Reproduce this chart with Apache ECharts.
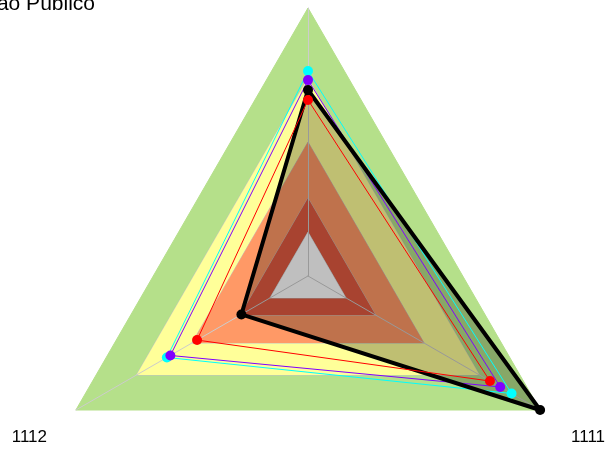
<!DOCTYPE html>
<html>
<head>
<meta charset="utf-8">
<script src="https://cdn.jsdelivr.net/npm/echarts@6/dist/echarts.min.js"></script>
<style>
html,body{margin:0;padding:0;background:#fff;}
#chart{width:606px;height:451px;}
</style>
</head>
<body>
<div id="chart"></div>
<script>
const titleText = 'ão Público';
const indicatorNames = ['', '1112', '1111'];
const axisMax = 100;
const bandLevels = [100, 73.9, 50, 29.1, 16.4];
const bandColors = ['#b5e08a', '#ffff99', '#ff9966', '#e05a40', '#ffffff'];
const cyanValues = [76.5, 60.8, 87.7];
const purpleValues = [73.1, 59.3, 82.8];
const blackValues = [69.4, 28.7, 100];
const redValues = [65.7, 47.8, 78.4];

const chart = echarts.init(document.getElementById('chart'));
const series = [];
bandLevels.forEach((v, i) => {
  series.push({
    type: 'radar', z: 1, silent: true,
    symbol: 'none',
    lineStyle: { color: i === 0 ? bandColors[0] : '#c4c4c4', width: 1 },
    areaStyle: { color: bandColors[i], opacity: 1 },
    data: [{ value: [v, v, v] }]
  });
});
series.push({
  type: 'radar', z: 3, silent: true, symbol: 'none',
  lineStyle: { width: 0, opacity: 0 },
  areaStyle: { color: '#000', opacity: 0.25 },
  data: [{ value: blackValues }]
});
const lineSeries = [
  { v: cyanValues, c: '#00ffff', w: 1 },
  { v: purpleValues, c: '#8000ff', w: 1 },
  { v: blackValues, c: '#000000', w: 4 },
  { v: redValues, c: '#ff0000', w: 1 }
];
lineSeries.forEach(s => {
  series.push({
    type: 'radar', z: 4,
    symbol: 'circle', symbolSize: 10,
    itemStyle: { color: s.c },
    lineStyle: { color: s.c, width: s.w },
    data: [{ value: s.v }]
  });
});

const labelFont = { fontSize: 17, fontFamily: 'Liberation Sans', fill: '#000' };
chart.setOption({
  animation: false,
  backgroundColor: '#ffffff',
  radar: {
    z: 2,
    center: [308, 276],
    radius: 268,
    startAngle: 90,
    shape: 'polygon',
    splitNumber: 1,
    axisName: { show: false },
    axisLine: { lineStyle: { color: '#cccccc', width: 1 } },
    splitLine: { show: false },
    splitArea: { show: false },
    indicator: indicatorNames.map(n => ({ name: n, max: axisMax, min: 0 }))
  },
  graphic: [{
    type: 'text', right: 606 - 95, top: -6, z: 10,
    style: Object.assign({ text: titleText }, labelFont, { fontSize: 21 })
  }, {
    type: 'text', x: 47, y: 429, z: 10,
    style: Object.assign({ text: indicatorNames[1], align: 'right', verticalAlign: 'top' }, labelFont)
  }, {
    type: 'text', x: 571, y: 429, z: 10,
    style: Object.assign({ text: indicatorNames[2], align: 'left', verticalAlign: 'top' }, labelFont)
  }],
  series: series
});
</script>
</body>
</html>
